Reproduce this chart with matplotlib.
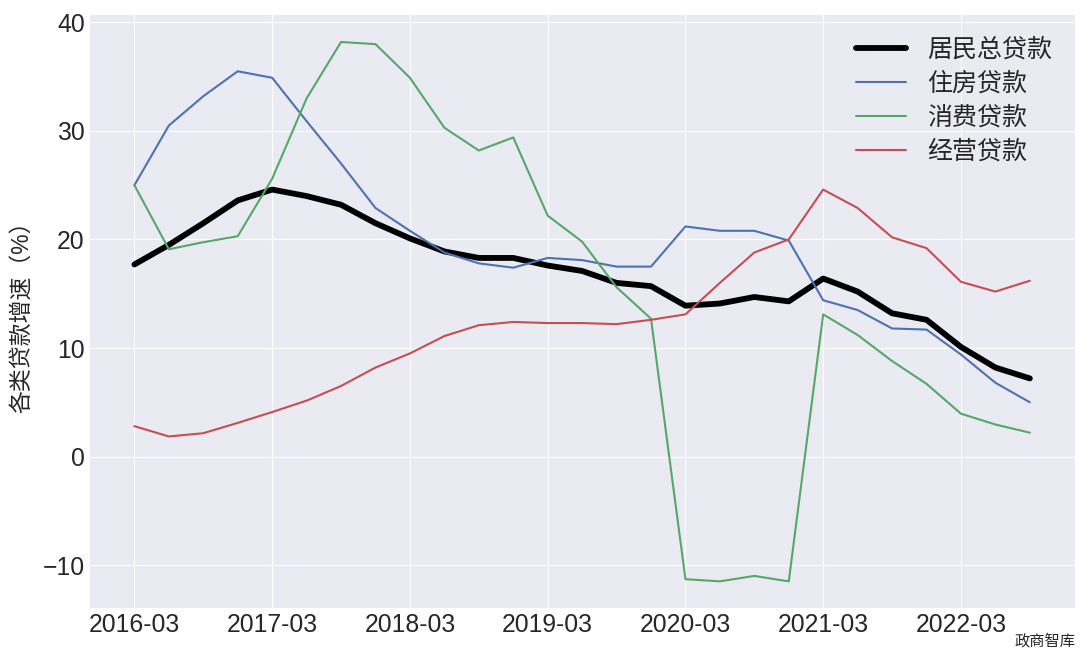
import matplotlib
matplotlib.use("Agg")
from matplotlib import pyplot as plt
import numpy as np

# quarterly, 2016-03 .. 2022-09
quarters = [f"{y}-{m:02d}" for y in range(2016, 2023) for m in (3, 6, 9, 12)][:27]

total = [17.7, 19.5, 21.5, 23.6, 24.6, 24.0, 23.2, 21.5, 20.1, 18.9, 18.3, 18.3, 17.6, 17.1,
         16.0, 15.7, 13.9, 14.1, 14.7, 14.3, 16.4, 15.2, 13.2, 12.6, 10.1, 8.2, 7.2]
housing = [25.0, 30.5, 33.2, 35.5, 34.9, 30.9, 27.0, 22.9, 20.8, 18.8, 17.8, 17.4, 18.3, 18.1,
           17.5, 17.5, 21.2, 20.8, 20.8, 19.9, 14.4, 13.5, 11.8, 11.7, 9.4, 6.8, 5.0]
consumer = [25.0, 19.1, 19.75, 20.3, 25.6, 33.0, 38.2, 38.0, 34.9, 30.3, 28.2, 29.4, 22.2, 19.8,
            15.6, 12.7, -11.3, -11.5, -11.0, -11.5, 13.1, 11.2, 8.8, 6.7, 3.95, 2.95, 2.2]
business = [2.8, 1.85, 2.15, 3.1, 4.1, 5.15, 6.5, 8.2, 9.5, 11.1, 12.1, 12.4, 12.3, 12.3,
            12.2, 12.6, 13.1, 16.0, 18.8, 20.0, 24.6, 22.9, 20.2, 19.2, 16.1, 15.2, 16.2]

plt.style.use("seaborn-v0_8-darkgrid")
plt.rcParams['font.family'] = ['Liberation Sans', 'Noto Sans CJK SC', 'DejaVu Sans']
plt.rcParams['axes.unicode_minus'] = True

fig = plt.figure(figsize=(10.8, 6.52), dpi=100)
ax = fig.add_axes([0.083, 0.067, 0.912, 0.91])

x = np.arange(len(quarters))
ax.plot(x, total, color='black', lw=4.2, label='居民总贷款')
ax.plot(x, housing, color='#4C72B0', lw=1.5, label='住房贷款')
ax.plot(x, consumer, color='#55A868', lw=1.5, label='消费贷款')
ax.plot(x, business, color='#C44E52', lw=1.5, label='经营贷款')

ax.set_xticks(x[::4])
ax.set_xticklabels(quarters[::4])
ax.set_yticks([-10, 0, 10, 20, 30, 40])
ax.tick_params(labelsize=17.8, colors='#262626')
ax.set_ylabel('各类贷款增速（%）', fontsize=16.5, color='#262626', labelpad=6)

ax.legend(loc='upper right', frameon=False, fontsize=18, handlelength=2.0,
          labelspacing=0.4, handletextpad=0.85)

fig.text(0.996, 0.004, '政商智库', ha='right', va='bottom', fontsize=11,
         family=['Noto Sans CJK SC'])

fig.savefig('out.png', dpi=100)
